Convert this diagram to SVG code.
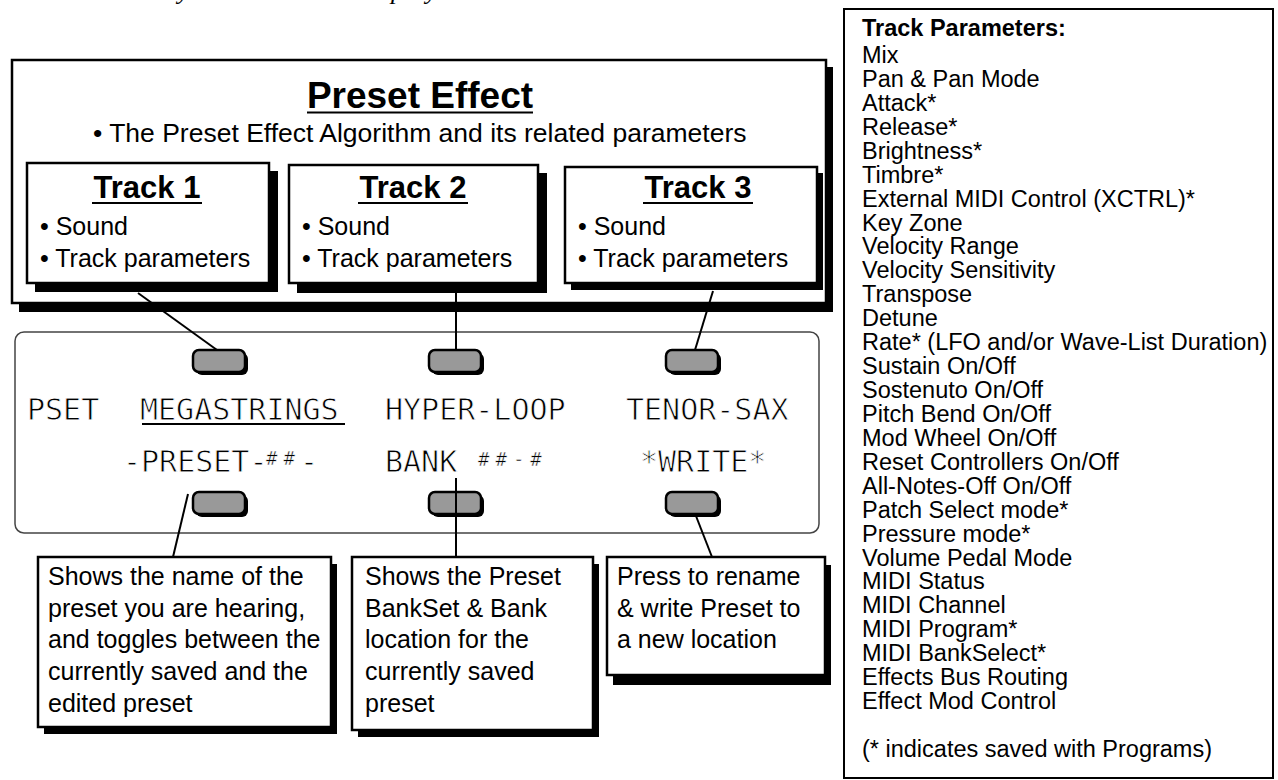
<svg xmlns="http://www.w3.org/2000/svg" width="1278" height="780" viewBox="0 0 1278 780">
<style>
  text { font-family: "Liberation Sans", Arial, sans-serif; fill: #000; }
  .frag { font-family: "Liberation Serif", serif; font-style: italic; font-size: 26px; }
  .box { fill: #fff; stroke: #000; stroke-width: 2.5; }
  .shadow { fill: #000; }
  .ttl { font-weight: bold; font-size: 31px; }
  .item { font-size: 25px; }
  .note { font-size: 25px; }
  .lcd { font-family: "DejaVu Sans Mono", monospace; font-size: 30px; stroke: #fff; stroke-width: 0.8px; }
  .lcdsm { font-family: "DejaVu Sans Mono", monospace; font-size: 19px; letter-spacing: 6px; stroke: #fff; stroke-width: 0.5px; }
  .btn { fill: #999; stroke: #000; stroke-width: 2.5; }
  .btnsh { fill: #000; }
  .ul { stroke: #000; stroke-width: 2; }
  .conn { stroke: #000; stroke-width: 2; fill: none; }
  .list { font-size: 23.5px; }
</style>

<!-- partial cropped text at top edge -->
<g id="top-fragments">
  <text class="frag" x="178" y="-1">y</text>
  <text class="frag" x="391" y="-1">p</text>
  <text class="frag" x="426" y="-1">y</text>
</g>

<!-- Preset Effect container -->
<g id="preset-effect">
  <rect class="shadow" x="19" y="67" width="814" height="245"/>
  <rect class="box" x="12" y="60" width="814" height="243"/>
  <text x="420" y="108" font-size="37" font-weight="bold" text-anchor="middle">Preset Effect</text>
  <line class="ul" x1="307" y1="112.5" x2="533" y2="112.5"/>
  <text x="93" y="142" font-size="26.5">• The Preset Effect Algorithm and its related parameters</text>
</g>

<g id="track1">
  <rect class="shadow" x="35" y="171" width="243" height="121"/>
  <rect class="box" x="27" y="163" width="242" height="120"/>
  <text class="ttl" x="147" y="198" text-anchor="middle">Track 1</text>
  <line class="ul" x1="92" y1="203" x2="202" y2="203"/>
  <text class="item" x="40" y="235">• Sound</text>
  <text class="item" x="40" y="267">• Track parameters</text>
</g>

<g id="track2">
  <rect class="shadow" x="297" y="173" width="250" height="120"/>
  <rect class="box" x="289" y="165" width="249" height="118"/>
  <text class="ttl" x="413" y="198" text-anchor="middle">Track 2</text>
  <line class="ul" x1="358" y1="203" x2="468" y2="203"/>
  <text class="item" x="302" y="235">• Sound</text>
  <text class="item" x="302" y="267">• Track parameters</text>
</g>

<g id="track3">
  <rect class="shadow" x="571" y="173" width="252" height="117"/>
  <rect class="box" x="565" y="167" width="252" height="116"/>
  <text class="ttl" x="698" y="198" text-anchor="middle">Track 3</text>
  <line class="ul" x1="643" y1="203" x2="753" y2="203"/>
  <text class="item" x="578" y="235">• Sound</text>
  <text class="item" x="578" y="267">• Track parameters</text>
</g>

<!-- LCD display -->
<g id="lcd">
  <rect x="15" y="332" width="804" height="201" rx="9" ry="9" fill="#fff" stroke="#444" stroke-width="1.5"/>
  <text class="lcd" x="27" y="420">PSET</text>
  <text class="lcd" x="140" y="420">MEGASTRINGS</text>
  <line class="ul" x1="142" y1="424" x2="345" y2="424"/>
  <text class="lcd" x="385" y="420">HYPER-LOOP</text>
  <text class="lcd" x="626" y="420">TENOR-SAX</text>
  <text class="lcd" x="123" y="472">-PRESET-</text>
  <text class="lcdsm" x="266" y="465">##</text>
  <text class="lcd" x="300" y="472">-</text>
  <text class="lcd" x="385" y="472">BANK</text>
  <text class="lcdsm" x="478" y="466">##-#</text>
  <text class="lcd" x="640" y="472">*WRITE*</text>
</g>

<g id="btn-top-1"><rect class="btnsh" x="196" y="353" width="52" height="22" rx="6"/><rect class="btn" x="193" y="350" width="52" height="22" rx="6"/></g>
<g id="btn-top-2"><rect class="btnsh" x="432" y="353" width="52" height="22" rx="6"/><rect class="btn" x="429" y="350" width="52" height="22" rx="6"/></g>
<g id="btn-top-3"><rect class="btnsh" x="669" y="353" width="52" height="22" rx="6"/><rect class="btn" x="666" y="350" width="52" height="22" rx="6"/></g>
<g id="btn-bot-1"><rect class="btnsh" x="196" y="495" width="52" height="22" rx="6"/><rect class="btn" x="193" y="492" width="52" height="22" rx="6"/></g>
<g id="btn-bot-2"><rect class="btnsh" x="432" y="495" width="52" height="22" rx="6"/><rect class="btn" x="429" y="492" width="52" height="22" rx="6"/></g>
<g id="btn-bot-3"><rect class="btnsh" x="669" y="495" width="52" height="22" rx="6"/><rect class="btn" x="666" y="492" width="52" height="22" rx="6"/></g>

<!-- callout boxes -->
<g id="note1">
  <rect class="shadow" x="44" y="564" width="293" height="170"/>
  <rect class="box" x="38" y="557" width="293" height="170"/>
  <text class="note" x="48" y="585">Shows the name of the</text>
  <text class="note" x="48" y="617">preset you are hearing,</text>
  <text class="note" x="48" y="648">and toggles between the</text>
  <text class="note" x="48" y="680">currently saved and the</text>
  <text class="note" x="48" y="712">edited preset</text>
</g>

<g id="note2">
  <rect class="shadow" x="358" y="564" width="241" height="173"/>
  <rect class="box" x="352" y="557" width="241" height="173"/>
  <text class="note" x="365" y="585">Shows the Preset</text>
  <text class="note" x="365" y="617">BankSet &amp; Bank</text>
  <text class="note" x="365" y="648">location for the</text>
  <text class="note" x="365" y="680">currently saved</text>
  <text class="note" x="365" y="712">preset</text>
</g>

<g id="note3">
  <rect class="shadow" x="613" y="565" width="218" height="120"/>
  <rect class="box" x="607" y="557" width="218" height="118"/>
  <text class="note" x="617" y="585">Press to rename</text>
  <text class="note" x="617" y="617">&amp; write Preset to</text>
  <text class="note" x="617" y="648">a new location</text>
</g>

<!-- Track parameters list -->
<g id="track-params">
  <rect x="844" y="9" width="429" height="769" fill="#fff" stroke="#000" stroke-width="2"/>
  <text class="list" x="862" y="36" font-weight="bold">Track Parameters:</text>
  <text class="list" x="862" y="63">Mix
    <tspan x="862" dy="23.93">Pan &amp; Pan Mode</tspan>
    <tspan x="862" dy="23.93">Attack*</tspan>
    <tspan x="862" dy="23.93">Release*</tspan>
    <tspan x="862" dy="23.93">Brightness*</tspan>
    <tspan x="862" dy="23.93">Timbre*</tspan>
    <tspan x="862" dy="23.93">External MIDI Control (XCTRL)*</tspan>
    <tspan x="862" dy="23.93">Key Zone</tspan>
    <tspan x="862" dy="23.93">Velocity Range</tspan>
    <tspan x="862" dy="23.93">Velocity Sensitivity</tspan>
    <tspan x="862" dy="23.93">Transpose</tspan>
    <tspan x="862" dy="23.93">Detune</tspan>
    <tspan x="862" dy="23.93">Rate* (LFO and/or Wave-List Duration)</tspan>
    <tspan x="862" dy="23.93">Sustain On/Off</tspan>
    <tspan x="862" dy="23.93">Sostenuto On/Off</tspan>
    <tspan x="862" dy="23.93">Pitch Bend On/Off</tspan>
    <tspan x="862" dy="23.93">Mod Wheel On/Off</tspan>
    <tspan x="862" dy="23.93">Reset Controllers On/Off</tspan>
    <tspan x="862" dy="23.93">All-Notes-Off On/Off</tspan>
    <tspan x="862" dy="23.93">Patch Select mode*</tspan>
    <tspan x="862" dy="23.93">Pressure mode*</tspan>
    <tspan x="862" dy="23.93">Volume Pedal Mode</tspan>
    <tspan x="862" dy="23.93">MIDI Status</tspan>
    <tspan x="862" dy="23.93">MIDI Channel</tspan>
    <tspan x="862" dy="23.93">MIDI Program*</tspan>
    <tspan x="862" dy="23.93">MIDI BankSelect*</tspan>
    <tspan x="862" dy="23.93">Effects Bus Routing</tspan>
    <tspan x="862" dy="23.93">Effect Mod Control</tspan>
  </text>
  <text class="list" x="862" y="757">(* indicates saved with Programs)</text>
</g>

<!-- connectors -->
<g id="connectors">
  <line class="conn" x1="138" y1="293" x2="217" y2="350"/>
  <line class="conn" x1="456" y1="293" x2="456" y2="350"/>
  <line class="conn" x1="713" y1="291" x2="695" y2="350"/>
  <line class="conn" x1="188" y1="494" x2="173" y2="557"/>
  <line class="conn" x1="456" y1="478" x2="456" y2="557"/>
  <line class="conn" x1="696" y1="516" x2="712" y2="557"/>
</g>
</svg>
